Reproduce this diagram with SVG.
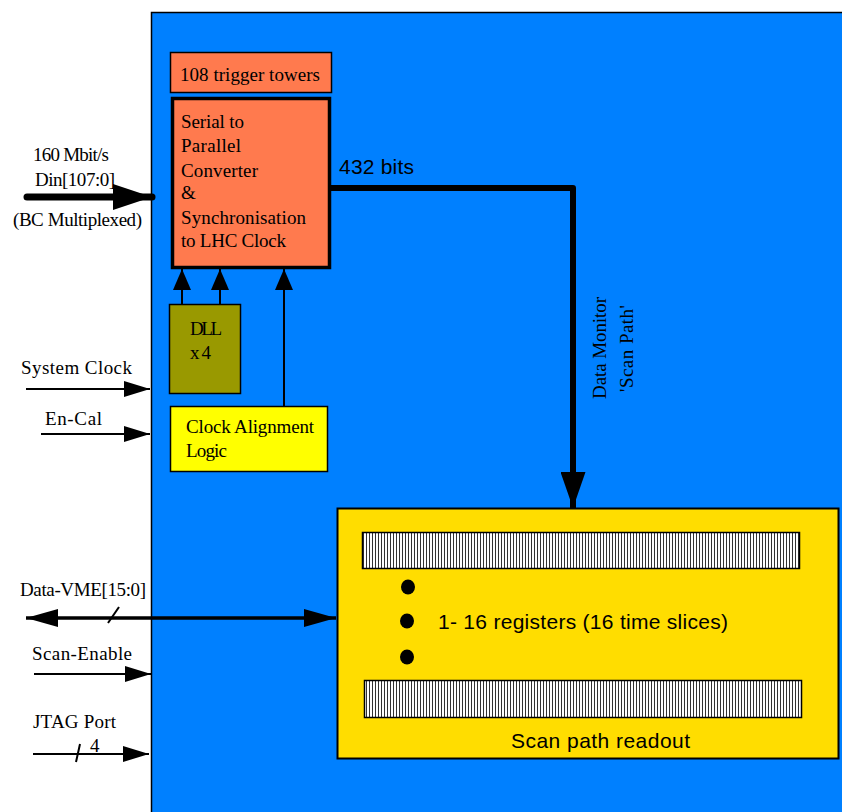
<svg xmlns="http://www.w3.org/2000/svg" width="842" height="812" viewBox="0 0 842 812">
<style>
.serif{font-family:"Liberation Serif","Times New Roman",serif;font-size:19px;fill:#000}
.sans{font-family:"Liberation Sans",Arial,sans-serif;font-size:21px;fill:#000}
.box{stroke:#000;stroke-width:1.5}
.wire{fill:none;stroke:#000;stroke-width:2}
</style>
<defs>
<pattern id="hatch" patternUnits="userSpaceOnUse" width="3" height="10">
<rect width="3" height="10" fill="#fff"/>
<rect x="0" y="0" width="1" height="10" fill="#333"/>
</pattern>
<marker id="m-thin" markerUnits="userSpaceOnUse" viewBox="0 0 26 16" refX="26" refY="8" markerWidth="26" markerHeight="16" orient="auto"><path d="M0,0 L26,8 L0,16 z" fill="#000"/></marker>
<marker id="m-up" markerUnits="userSpaceOnUse" viewBox="0 0 21 18" refX="21" refY="9" markerWidth="21" markerHeight="18" orient="auto"><path d="M0,0 L21,9 L0,18 z" fill="#000"/></marker>
<marker id="m-big" markerUnits="userSpaceOnUse" viewBox="0 0 39 26" refX="39" refY="13" markerWidth="39" markerHeight="26" orient="auto"><path d="M0,0 L39,13 L0,26 z" fill="#000"/></marker>
<marker id="m-down" markerUnits="userSpaceOnUse" viewBox="0 0 36 25" refX="36" refY="12.5" markerWidth="36" markerHeight="25" orient="auto"><path d="M0,0 L36,12.5 L0,25 z" fill="#000"/></marker>
<marker id="m-vme" markerUnits="userSpaceOnUse" viewBox="0 0 32 18" refX="32" refY="9" markerWidth="32" markerHeight="18" orient="auto-start-reverse"><path d="M0,0 L32,9 L0,18 z" fill="#000"/></marker>
</defs>

<g id="chip">
<rect x="151.5" y="12.5" width="700" height="810" fill="#0080FF" class="box"/>
</g>

<g id="trigger-towers">
<rect x="170.5" y="52.5" width="161" height="40" fill="#FF7A4E" class="box"/>
<text class="serif" x="180" y="81" textLength="140" lengthAdjust="spacing">108 trigger towers</text>
</g>

<g id="serial-converter">
<rect x="172.5" y="98.5" width="157" height="169" fill="#FF7A4E" stroke="#000" stroke-width="3.5"/>
<text class="serif" x="181" y="128" textLength="63" lengthAdjust="spacing">Serial to</text>
<text class="serif" x="181" y="152" textLength="60" lengthAdjust="spacing">Parallel</text>
<text class="serif" x="181" y="177" textLength="77" lengthAdjust="spacing">Converter</text>
<text class="serif" x="181" y="199">&amp;</text>
<text class="serif" x="181" y="224" textLength="125" lengthAdjust="spacing">Synchronisation</text>
<text class="serif" x="181" y="247" textLength="105" lengthAdjust="spacing">to LHC Clock</text>
</g>

<g id="dll">
<rect x="169.5" y="304.5" width="71" height="89" fill="#999900" class="box"/>
<text class="serif" x="190" y="335" textLength="32" lengthAdjust="spacing">DLL</text>
<text class="serif" x="190" y="359" textLength="21" lengthAdjust="spacing">x 4</text>
</g>

<g id="clock-alignment">
<rect x="170.5" y="406.5" width="157" height="65" fill="#FFFF00" class="box"/>
<text class="serif" x="186" y="433" textLength="128" lengthAdjust="spacing">Clock Alignment</text>
<text class="serif" x="186" y="457" textLength="41" lengthAdjust="spacing">Logic</text>
</g>

<g id="scan-path">
<rect x="337.5" y="508.5" width="501" height="250" fill="#FFDD00" stroke="#000" stroke-width="2"/>
<rect x="362.5" y="532.5" width="437" height="36" fill="url(#hatch)" class="box"/>
<rect x="364.5" y="680.5" width="437" height="37" fill="url(#hatch)" class="box"/>
<ellipse cx="408" cy="587" rx="7" ry="7.5" fill="#000"/>
<ellipse cx="407" cy="621" rx="7" ry="7.5" fill="#000"/>
<ellipse cx="407" cy="657" rx="7" ry="7.5" fill="#000"/>
<text class="sans" x="438" y="629" textLength="290" lengthAdjust="spacing">1- 16 registers (16 time slices)</text>
<text class="sans" x="511" y="748" textLength="179" lengthAdjust="spacing">Scan path readout</text>
</g>

<g id="connectors">
<line x1="27" y1="197" x2="152" y2="197" stroke="#000" stroke-width="7" stroke-linecap="round" marker-end="url(#m-big)"/>
<line x1="182" y1="304" x2="182" y2="269" class="wire" marker-end="url(#m-up)"/>
<line x1="220" y1="304" x2="220" y2="269" class="wire" marker-end="url(#m-up)"/>
<line x1="284" y1="406" x2="284" y2="269" class="wire" marker-end="url(#m-up)"/>
<line x1="26" y1="389" x2="150" y2="389" class="wire" marker-end="url(#m-thin)"/>
<line x1="41" y1="434" x2="150" y2="434" class="wire" marker-end="url(#m-thin)"/>
<line x1="34" y1="674" x2="151" y2="674" class="wire" marker-end="url(#m-thin)"/>
<line x1="33" y1="754" x2="149" y2="754" class="wire" marker-end="url(#m-thin)"/>
<line x1="76" y1="762" x2="80" y2="744" class="wire" stroke-width="1.5"/>
<line x1="26" y1="618" x2="336" y2="618" stroke="#000" stroke-width="3.5" marker-start="url(#m-vme)" marker-end="url(#m-vme)"/>
<line x1="108" y1="623" x2="119" y2="607" class="wire" stroke-width="1.5"/>
<path d="M331,188 H573 V508" fill="none" stroke="#000" stroke-width="6" stroke-linejoin="round" marker-end="url(#m-down)"/>
</g>

<g id="labels">
<text class="serif" x="33" y="161" textLength="76" lengthAdjust="spacing">160 Mbit/s</text>
<text class="serif" x="35" y="186" textLength="80" lengthAdjust="spacing">Din[107:0]</text>
<text class="serif" x="13" y="226" textLength="129" lengthAdjust="spacing">(BC Multiplexed)</text>
<text class="serif" x="21" y="374" textLength="111" lengthAdjust="spacing">System Clock</text>
<text class="serif" x="45" y="425" textLength="57" lengthAdjust="spacing">En-Cal</text>
<text class="serif" x="20" y="596" textLength="126" lengthAdjust="spacing">Data-VME[15:0]</text>
<text class="serif" x="32" y="660" textLength="100" lengthAdjust="spacing">Scan-Enable</text>
<text class="serif" x="33" y="728" textLength="83" lengthAdjust="spacing">JTAG Port</text>
<text class="serif" x="90" y="752">4</text>
<text class="sans" x="339" y="174" font-size="20" textLength="75" lengthAdjust="spacing">432 bits</text>
<text class="serif" transform="translate(606,348) rotate(-90)" text-anchor="middle" textLength="102" lengthAdjust="spacing">Data Monitor</text>
<text class="serif" transform="translate(633,348.5) rotate(-90)" text-anchor="middle" textLength="87" lengthAdjust="spacing">'Scan Path'</text>
</g>
</svg>
